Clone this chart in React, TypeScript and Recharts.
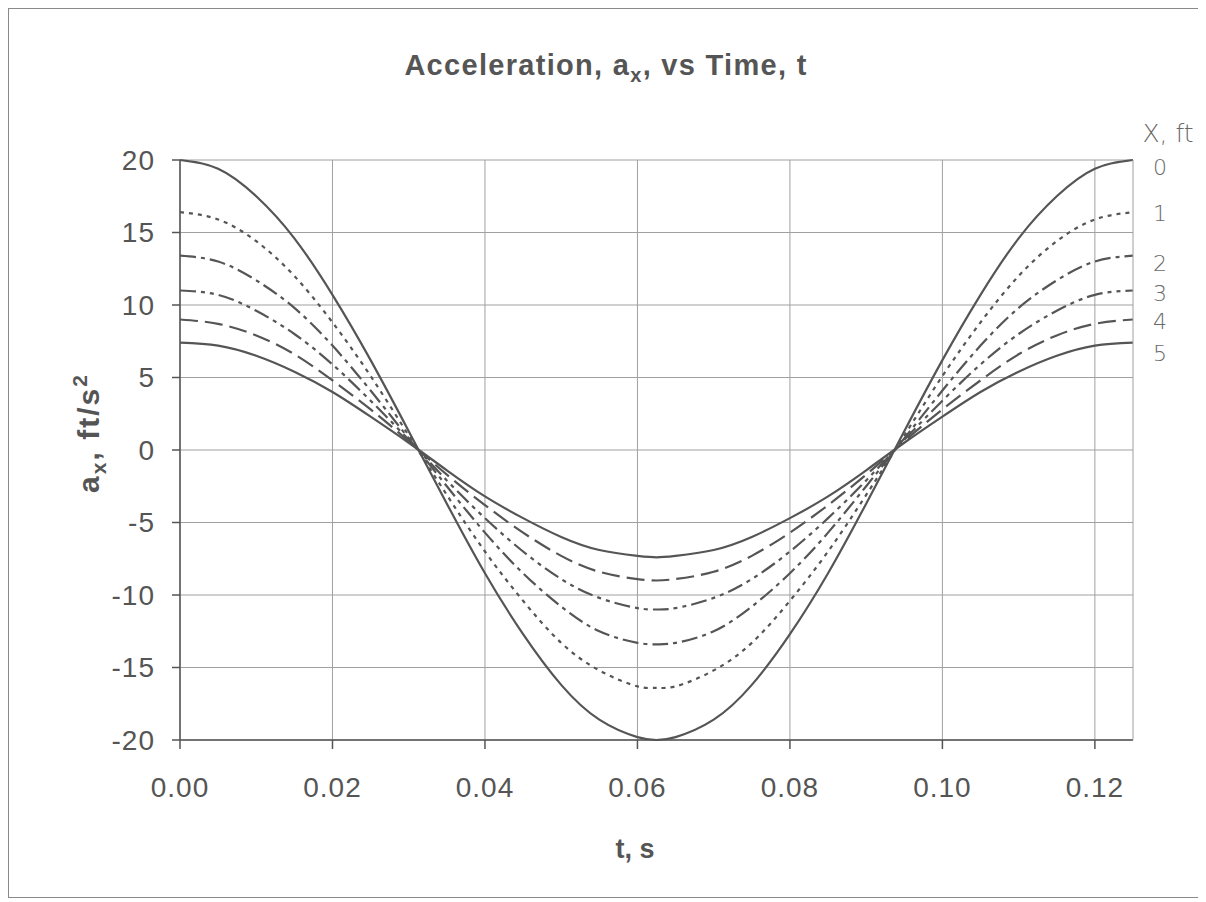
import React from 'react';
import { LineChart, Line, XAxis, YAxis, CartesianGrid, ReferenceDot } from 'recharts';

// Time, s
const times = [
  0, 0.005, 0.01, 0.015, 0.02, 0.025, 0.03, 0.035, 0.04, 0.045, 0.05, 0.055, 0.06, 0.0625,
  0.065, 0.07, 0.075, 0.08, 0.085, 0.09, 0.095, 0.1, 0.105, 0.11, 0.115, 0.12, 0.125,
];

// Horizontal acceleration a_x (ft/s^2) at depths X = 0..5 ft
const ax0 = [20.0, 19.4, 17.5, 14.6, 10.7, 6.2, 1.3, -3.7, -8.5, -12.7, -16.2, -18.6, -19.8, -20.0, -19.8, -18.6, -16.2, -12.7, -8.5, -3.7, 1.3, 6.2, 10.7, 14.6, 17.5, 19.4, 20.0];
const ax1 = [16.4, 15.9, 14.4, 12.0, 8.8, 5.1, 1.0, -3.1, -7.0, -10.4, -13.3, -15.2, -16.3, -16.4, -16.3, -15.2, -13.3, -10.4, -7.0, -3.1, 1.0, 5.1, 8.8, 12.0, 14.4, 15.9, 16.4];
const ax2 = [13.4, 13.0, 11.7, 9.8, 7.2, 4.1, 0.8, -2.5, -5.7, -8.5, -10.8, -12.5, -13.3, -13.4, -13.3, -12.5, -10.8, -8.5, -5.7, -2.5, 0.8, 4.1, 7.2, 9.8, 11.7, 13.0, 13.4];
const ax3 = [11.0, 10.7, 9.6, 8.0, 5.9, 3.4, 0.7, -2.1, -4.7, -7.0, -8.9, -10.2, -10.9, -11.0, -10.9, -10.2, -8.9, -7.0, -4.7, -2.1, 0.7, 3.4, 5.9, 8.0, 9.6, 10.7, 11.0];
const ax4 = [9.0, 8.7, 7.9, 6.6, 4.8, 2.8, 0.6, -1.7, -3.8, -5.7, -7.3, -8.4, -8.9, -9.0, -8.9, -8.4, -7.3, -5.7, -3.8, -1.7, 0.6, 2.8, 4.8, 6.6, 7.9, 8.7, 9.0];
const ax5 = [7.4, 7.2, 6.5, 5.4, 4.0, 2.3, 0.5, -1.4, -3.2, -4.7, -6.0, -6.9, -7.3, -7.4, -7.3, -6.9, -6.0, -4.7, -3.2, -1.4, 0.5, 2.3, 4.0, 5.4, 6.5, 7.2, 7.4];

const xTicks = [0, 0.02, 0.04, 0.06, 0.08, 0.1, 0.12];
const yTicks = [-20, -15, -10, -5, 0, 5, 10, 15, 20];

// Depth labels written beside the right edge, and the level each sits at
const depthLabels = ['0', '1', '2', '3', '4', '5'];
const depthLabelLevels = [19.5, 16.3, 12.9, 10.8, 8.9, 6.7];
const T_END = 0.125;

const seriesKeys = ['x0', 'x1', 'x2', 'x3', 'x4', 'x5'];
const seriesValues = [ax0, ax1, ax2, ax3, ax4, ax5];
const dashes = [undefined, '4 5', '16 5 4 5', '16 5 4 5 4 5', '18 7', undefined];

const data = times.map((t, i) => {
  const row: Record<string, number> = { t };
  seriesKeys.forEach((k, s) => {
    row[k] = seriesValues[s][i];
  });
  return row;
});

const INK = '#555';
const GRID = '#a0a0a0';
const HAND_INK = '#6a6a6a';
const FONT = 'Arial, "Liberation Sans", sans-serif';
const HAND = '"DejaVu Sans", sans-serif';

export default function App() {
  return (
    <div
      style={{
        width: 1189,
        height: 888,
        border: '1px solid #8a8a8a',
        background: '#fff',
      }}
    >
      <LineChart
        width={1189}
        height={888}
        data={data}
        margin={{ top: 151, right: 5, bottom: 97, left: 111 }}
      >
        <CartesianGrid
          yAxisId="left"
          stroke={GRID}
          strokeWidth={1}
          horizontalValues={yTicks}
          verticalValues={xTicks}
        />
        <XAxis
          dataKey="t"
          type="number"
          domain={[0, T_END]}
          ticks={xTicks}
          tickFormatter={(v: number) => v.toFixed(2)}
          height={60}
          stroke={INK}
          strokeWidth={1.5}
          tickSize={9}
          tickMargin={28}
          tick={{ fill: INK, fontSize: 28, fontFamily: FONT, letterSpacing: 1 }}
          interval={0}
          allowDataOverflow
        />
        <YAxis
          yAxisId="left"
          type="number"
          domain={[-20, 20]}
          ticks={yTicks}
          width={60}
          stroke={INK}
          strokeWidth={1.5}
          tickSize={8}
          tickMargin={17}
          tick={{ fill: INK, fontSize: 28, fontFamily: FONT, letterSpacing: 1 }}
          interval={0}
        />
        <YAxis
          yAxisId="right"
          orientation="right"
          type="number"
          domain={[-20, 20]}
          width={60}
          stroke={GRID}
          strokeWidth={1}
          tickLine={false}
          tick={false}
          label={{
            content: ({ viewBox }: any) => (
              <text
                x={viewBox.x + viewBox.width / 2 + 5}
                y={viewBox.y - 18}
                textAnchor="middle"
                fill={HAND_INK}
                fontSize={25}
                fontFamily={HAND}
                fontWeight={200}
              >
                X, ft
              </text>
            ),
          }}
        />
        {seriesKeys.map((k, i) => (
          <Line
            key={k}
            yAxisId="left"
            dataKey={k}
            type="natural"
            stroke={INK}
            strokeWidth={2.2}
            strokeDasharray={dashes[i]}
            dot={false}
            activeDot={false}
            isAnimationActive={false}
          />
        ))}
        {depthLabels.map((lab, i) => (
          <ReferenceDot
            key={`depth-${lab}`}
            yAxisId="left"
            x={T_END}
            y={depthLabelLevels[i]}
            r={0}
            fill="none"
            stroke="none"
            ifOverflow="visible"
            label={{
              content: ({ viewBox }: any) => (
                <text
                  x={viewBox.x + viewBox.width / 2 + 20}
                  y={viewBox.y + viewBox.height / 2}
                  dy="0.35em"
                  textAnchor="start"
                  fill={HAND_INK}
                  fontSize={22}
                  fontFamily={HAND}
                  fontWeight={200}
                >
                  {lab}
                </text>
              ),
            }}
          />
        ))}
        <text
          x={597}
          y={66}
          textAnchor="middle"
          fill={INK}
          fontSize={29}
          fontWeight="bold"
          fontFamily={FONT}
          letterSpacing={1.3}
        >
          Acceleration, a
          <tspan dy={7} fontSize={20}>x</tspan>
          <tspan dy={-7}>, vs Time, t</tspan>
        </text>
        <text x={626} y={849} textAnchor="middle" fill={INK} fontSize={27} fontWeight="bold" fontFamily={FONT}>
          t, s
        </text>
        <text
          x={79}
          y={424}
          transform="rotate(-90, 79, 424)"
          textAnchor="middle"
          dy="0.35em"
          fill={INK}
          fontSize={30}
          fontWeight="bold"
          fontFamily={FONT}
          letterSpacing={2}
        >
          a
          <tspan dy={7} fontSize={21}>x</tspan>
          <tspan dy={-7}>, ft/s</tspan>
          <tspan dy={-12} fontSize={21}>2</tspan>
        </text>
      </LineChart>
    </div>
  );
}
